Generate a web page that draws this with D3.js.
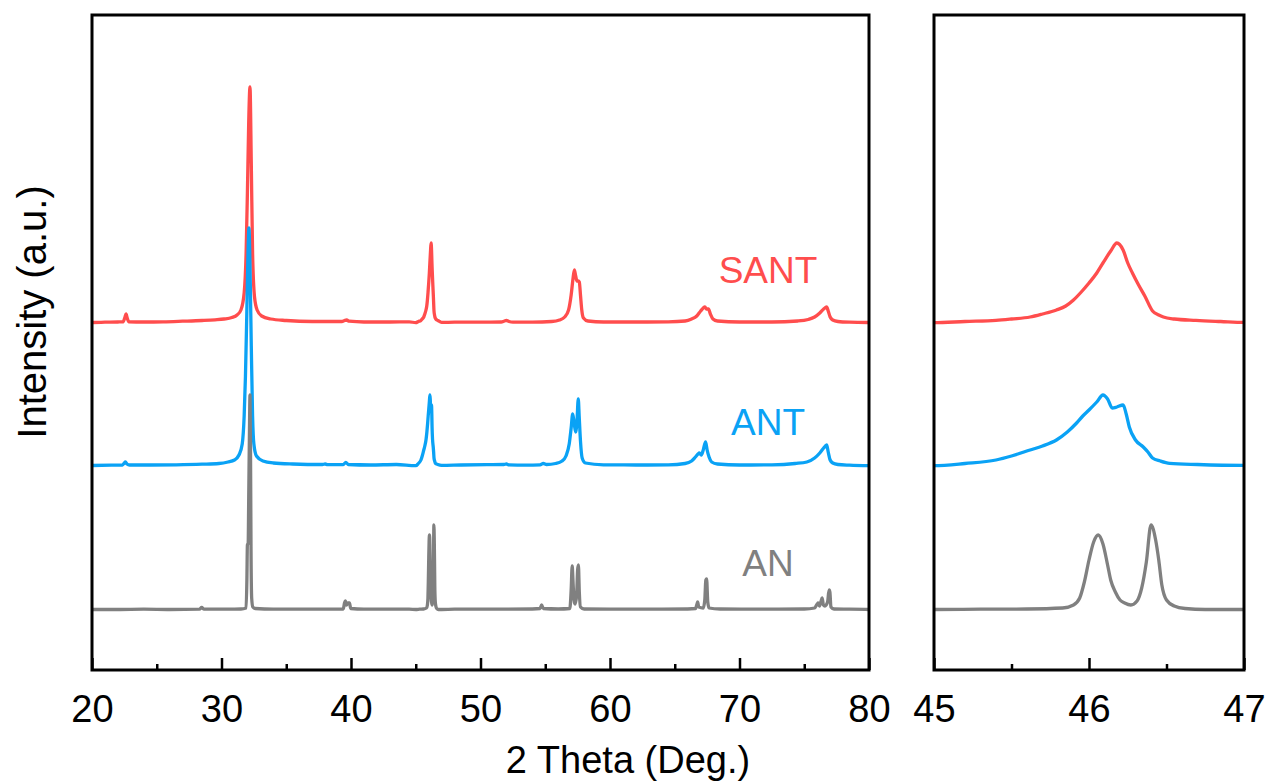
<!DOCTYPE html>
<html>
<head>
<meta charset="utf-8">
<script src="https://cdn.jsdelivr.net/npm/d3@7"></script>
<style>
  html, body { margin: 0; padding: 0; background: #fff; }
  svg { display: block; font-family: "Liberation Sans", Arial, sans-serif; }
</style>
</head>
<body>
<svg id="chart" width="1266" height="783"></svg>
<script>
// XRD patterns: [2θ (deg), intensity (a.u.)] above each pattern's own baseline
const anPattern = [
  [20.0,0.5],[22.0,0.5],[24.0,0.8],[26.0,0.5],[28.3,0.8],[28.47,2.5],[28.65,0.8],[30.5,0.8],[31.5,1],[31.9,2],
  [31.96,30],[32.0,65],[32.06,67],[32.1,110],[32.16,180],[32.2,215],[32.24,160],[32.28,60],[32.33,12],[32.42,3],
  [32.6,1.5],[34.0,0.8],[36.0,0.8],[38.0,0.8],[39.4,1],[39.5,7],[39.56,9],[39.65,5],[39.75,7],[39.88,7],[39.98,1.5],
  [41.0,0.8],[43.0,0.8],[44.5,0.8],
  [45.0,0.5],[45.3,0.8],[45.6,1],[45.83,2],[45.9,5],[45.94,12],[45.97,28],[46.0,50],[46.03,68],[46.06,75],[46.09,66],
  [46.12,45],[46.14,30],[46.17,18],[46.2,10],[46.23,7],[46.27,5],[46.31,9],[46.34,22],[46.37,48],[46.4,85],[46.43,70],
  [46.45,50],[46.47,25],[46.5,10],[46.55,4],[46.62,1.5],[46.75,0.5],[47.0,0.5],
  [48.0,0.8],[50.0,0.8],[52.0,0.8],[54.0,1],[54.6,1.5],[54.72,5],[54.85,1.5],[56.0,1],[56.9,1.5],[57.0,20],[57.08,44],
  [57.14,30],[57.22,10],[57.3,6],[57.42,14],[57.5,40],[57.56,45],[57.63,18],[57.72,3],[58.0,1],[60.0,0.8],[62.0,0.8],
  [64.0,0.8],[66.0,1],[66.6,1.5],[66.72,6],[66.77,8],[66.85,3],[67.2,2],[67.32,10],[67.4,30],[67.46,31],[67.55,8],
  [67.65,2],[68.5,1],[71.0,0.8],[73.0,0.8],[75.0,1],[75.8,2],[76.0,6],[76.08,7],[76.18,4],[76.3,9],[76.38,12],
  [76.48,5],[76.6,4],[76.8,8],[76.92,20],[76.98,18],[77.06,3],[77.3,1],[78.5,0.8],[80.0,0.5]
];

const antPattern = [
  [20.0,0.5],[21.5,0.8],[22.35,1],[22.5,3],[22.58,4],[22.7,2],[22.9,1],[24.5,1],[26.5,1.2],[28.5,1.8],[29.8,2.5],
  [30.5,4],[31.0,6],[31.35,11],[31.6,22],[31.75,50],[31.85,90],[31.95,150],[32.05,215],[32.12,238],[32.2,200],
  [32.3,120],[32.4,50],[32.5,22],[32.7,10],[33.2,5],[34.0,3],[35.5,2],[37.8,1.5],[38.0,2],[38.2,1.3],[39.4,1.5],
  [39.6,3.5],[39.8,1.5],[41.5,1],[43.5,1.5],
  [45.0,0.3],[45.2,2.5],[45.4,6],[45.5,10],[45.62,16],[45.7,20],[45.79,26],[45.86,34],[45.92,43],[45.96,50],[46.0,56],
  [46.05,64],[46.09,71],[46.12,67],[46.15,58],[46.18,59],[46.22,61],[46.24,52],[46.26,39],[46.3,26],[46.35,19],
  [46.38,14],[46.41,8],[46.46,5],[46.52,2.7],[46.7,1.5],[47.0,0.6],
  [48.5,1],[50.5,1.3],[51.8,1.5],[52.0,2],[52.2,1.2],[53.5,0.8],[54.6,1.2],[54.85,2.5],[55.1,1.5],[55.8,2.5],[56.3,5],
  [56.6,10],[56.85,22],[57.0,38],[57.12,52],[57.22,44],[57.35,34],[57.45,45],[57.55,67],[57.62,50],[57.72,25],
  [57.85,8],[58.1,3],[59.5,1.2],[62.0,1],[64.5,1.2],[65.8,2.5],[66.3,5],[66.6,9],[66.8,12],[66.9,13],[67.05,11],
  [67.2,16],[67.38,24],[67.5,16],[67.65,9],[67.85,4],[68.3,2],[70.0,1],[72.5,1.2],[74.3,2.5],[75.2,4],[75.8,8],
  [76.2,13],[76.5,18],[76.73,21],[76.85,14],[77.0,6],[77.2,3],[77.6,1.5],[78.5,0.8],[80.0,0.3]
];

const santPattern = [
  [20.0,0.5],[21.0,0.8],[22.0,1.0],[22.4,1.2],[22.55,6],[22.63,9],[22.72,5],[22.85,1.2],[24.0,1.0],[25.5,1.2],
  [27.0,1.8],[28.5,2.5],[29.5,3.2],[30.2,4],[30.8,5.5],[31.2,8],[31.5,13],[31.75,30],[31.9,70],[32.0,130],[32.1,200],
  [32.2,236],[32.3,160],[32.4,70],[32.55,26],[32.75,13],[33.1,7],[33.8,4],[35.0,2.5],[37.0,1.5],[39.3,1.5],[39.5,2.5],
  [39.67,3],[39.85,1.8],[41.0,1],[43.0,1],[44.5,1.2],
  [45.0,0.3],[45.2,1.5],[45.4,2.6],[45.5,4],[45.62,6],[45.7,9],[45.79,13],[45.85,17],[45.9,23],[45.95,31],[46.0,40],
  [46.05,50],[46.09,60],[46.14,72],[46.18,80],[46.22,73],[46.25,60],[46.28,50],[46.32,38],[46.36,27],[46.41,12],
  [46.45,8],[46.48,6],[46.55,4],[46.69,2.6],[46.85,1.5],[47.0,0.6],
  [48.0,0.8],[50.0,0.8],[51.6,1],[51.85,2],[52.0,2.5],[52.2,1.5],[52.5,0.8],[54.0,0.8],[55.5,1.5],[56.1,3],[56.5,6],
  [56.8,13],[57.0,28],[57.15,45],[57.25,53],[57.35,47],[57.45,42],[57.55,42],[57.63,41],[57.72,28],[57.82,13],
  [57.95,5],[58.3,2],[59.5,1],[62.0,1],[64.5,1.2],[65.8,2],[66.3,4],[66.7,7],[67.0,12],[67.2,15],[67.33,16],
  [67.45,14],[67.6,14],[67.75,9],[67.95,4],[68.3,2],[70.0,1],[72.5,1],[74.5,2],[75.3,3.5],[75.8,6],[76.2,10],
  [76.5,14],[76.73,16],[76.85,12],[77.0,6],[77.2,3],[77.6,1.5],[78.5,0.8],[80.0,0.5]
];

// Sample names, stacking offsets (a.u.) and colours, drawn bottom to top
const sampleNames   = ["SANT", "ANT", "AN"];
const sampleOffsets = [287, 144, 0];
const sampleColors  = ["#ff4d4d", "#0aa2f5", "#808080"];
const samplePatterns = [santPattern, antPattern, anPattern];

// Axis ticks
const mainMajorTicks = [20, 30, 40, 50, 60, 70, 80];
const mainMinorTicks = [25, 35, 45, 55, 65, 75];
const zoomMajorTicks = [45, 46, 47];
const zoomMinorTicks = [45.5, 46.5];

const xTitle = "2 Theta (Deg.)";
const yTitle = "Intensity (a.u.)";

const svg = d3.select("#chart");
const plotTop = 15, plotBottom = 670;

const y = d3.scaleLinear().domain([-60, 595]).range([plotBottom, plotTop]);

const panels = [
  { id: "main", left: 92,  right: 869,  domain: [20, 80], major: mainMajorTicks, minor: mainMinorTicks },
  { id: "zoom", left: 934, right: 1244, domain: [45, 47], major: zoomMajorTicks, minor: zoomMinorTicks }
];

const defs = svg.append("defs");

panels.forEach(p => {
  const x = d3.scaleLinear().domain(p.domain).range([p.left, p.right]);

  defs.append("clipPath").attr("id", "clip-" + p.id)
    .append("rect")
    .attr("x", p.left).attr("y", plotTop)
    .attr("width", p.right - p.left).attr("height", plotBottom - plotTop);

  const g = svg.append("g").attr("clip-path", `url(#clip-${p.id})`);

  sampleNames.forEach((name, i) => {
    const off = sampleOffsets[i];
    const line = d3.line()
      .curve(d3.curveMonotoneX)
      .x(d => x(d[0]))
      .y(d => y(d[1] + off));
    g.append("path")
      .datum(samplePatterns[i])
      .attr("d", line)
      .attr("fill", "none")
      .attr("stroke", sampleColors[i])
      .attr("stroke-width", 3.3)
      .attr("stroke-linejoin", "round")
      .attr("stroke-linecap", "round");
  });

  // minor ticks (inward)
  const minorAxis = svg.append("g")
    .attr("transform", `translate(0,${plotBottom})`)
    .call(d3.axisBottom(x).tickValues(p.minor).tickSize(-6).tickFormat(""));
  minorAxis.select(".domain").remove();
  minorAxis.selectAll("line").attr("stroke", "#000").attr("stroke-width", 2.5);

  // major ticks (inward) with labels
  const majorAxis = svg.append("g")
    .attr("transform", `translate(0,${plotBottom})`)
    .call(d3.axisBottom(x).tickValues(p.major).tickSize(-12).tickPadding(25).tickFormat(d3.format("d")));
  majorAxis.select(".domain").remove();
  majorAxis.selectAll("line").attr("stroke", "#000").attr("stroke-width", 2.5);
  majorAxis.selectAll("text")
    .attr("fill", "#000")
    .style("font-size", "38px")
    .style("font-family", "'Liberation Sans', Arial, sans-serif");

  // frame
  svg.append("rect")
    .attr("x", p.left).attr("y", plotTop)
    .attr("width", p.right - p.left).attr("height", plotBottom - plotTop)
    .attr("fill", "none").attr("stroke", "#000").attr("stroke-width", 3);
});

// sample labels
const labelX = 768;
const labelY = [283, 435, 576];
sampleNames.forEach((name, i) => {
  svg.append("text")
    .attr("x", labelX).attr("y", labelY[i])
    .attr("text-anchor", "middle")
    .attr("fill", sampleColors[i])
    .style("font-size", "37px")
    .text(name);
});

// axis titles
svg.append("text")
  .attr("x", 628).attr("y", 773)
  .attr("text-anchor", "middle")
  .attr("fill", "#000")
  .style("font-size", "38px")
  .text(xTitle);

svg.append("text")
  .attr("transform", "translate(46,312) rotate(-90)")
  .attr("text-anchor", "middle")
  .attr("fill", "#000")
  .style("font-size", "40px")
  .text(yTitle);
</script>
</body>
</html>
